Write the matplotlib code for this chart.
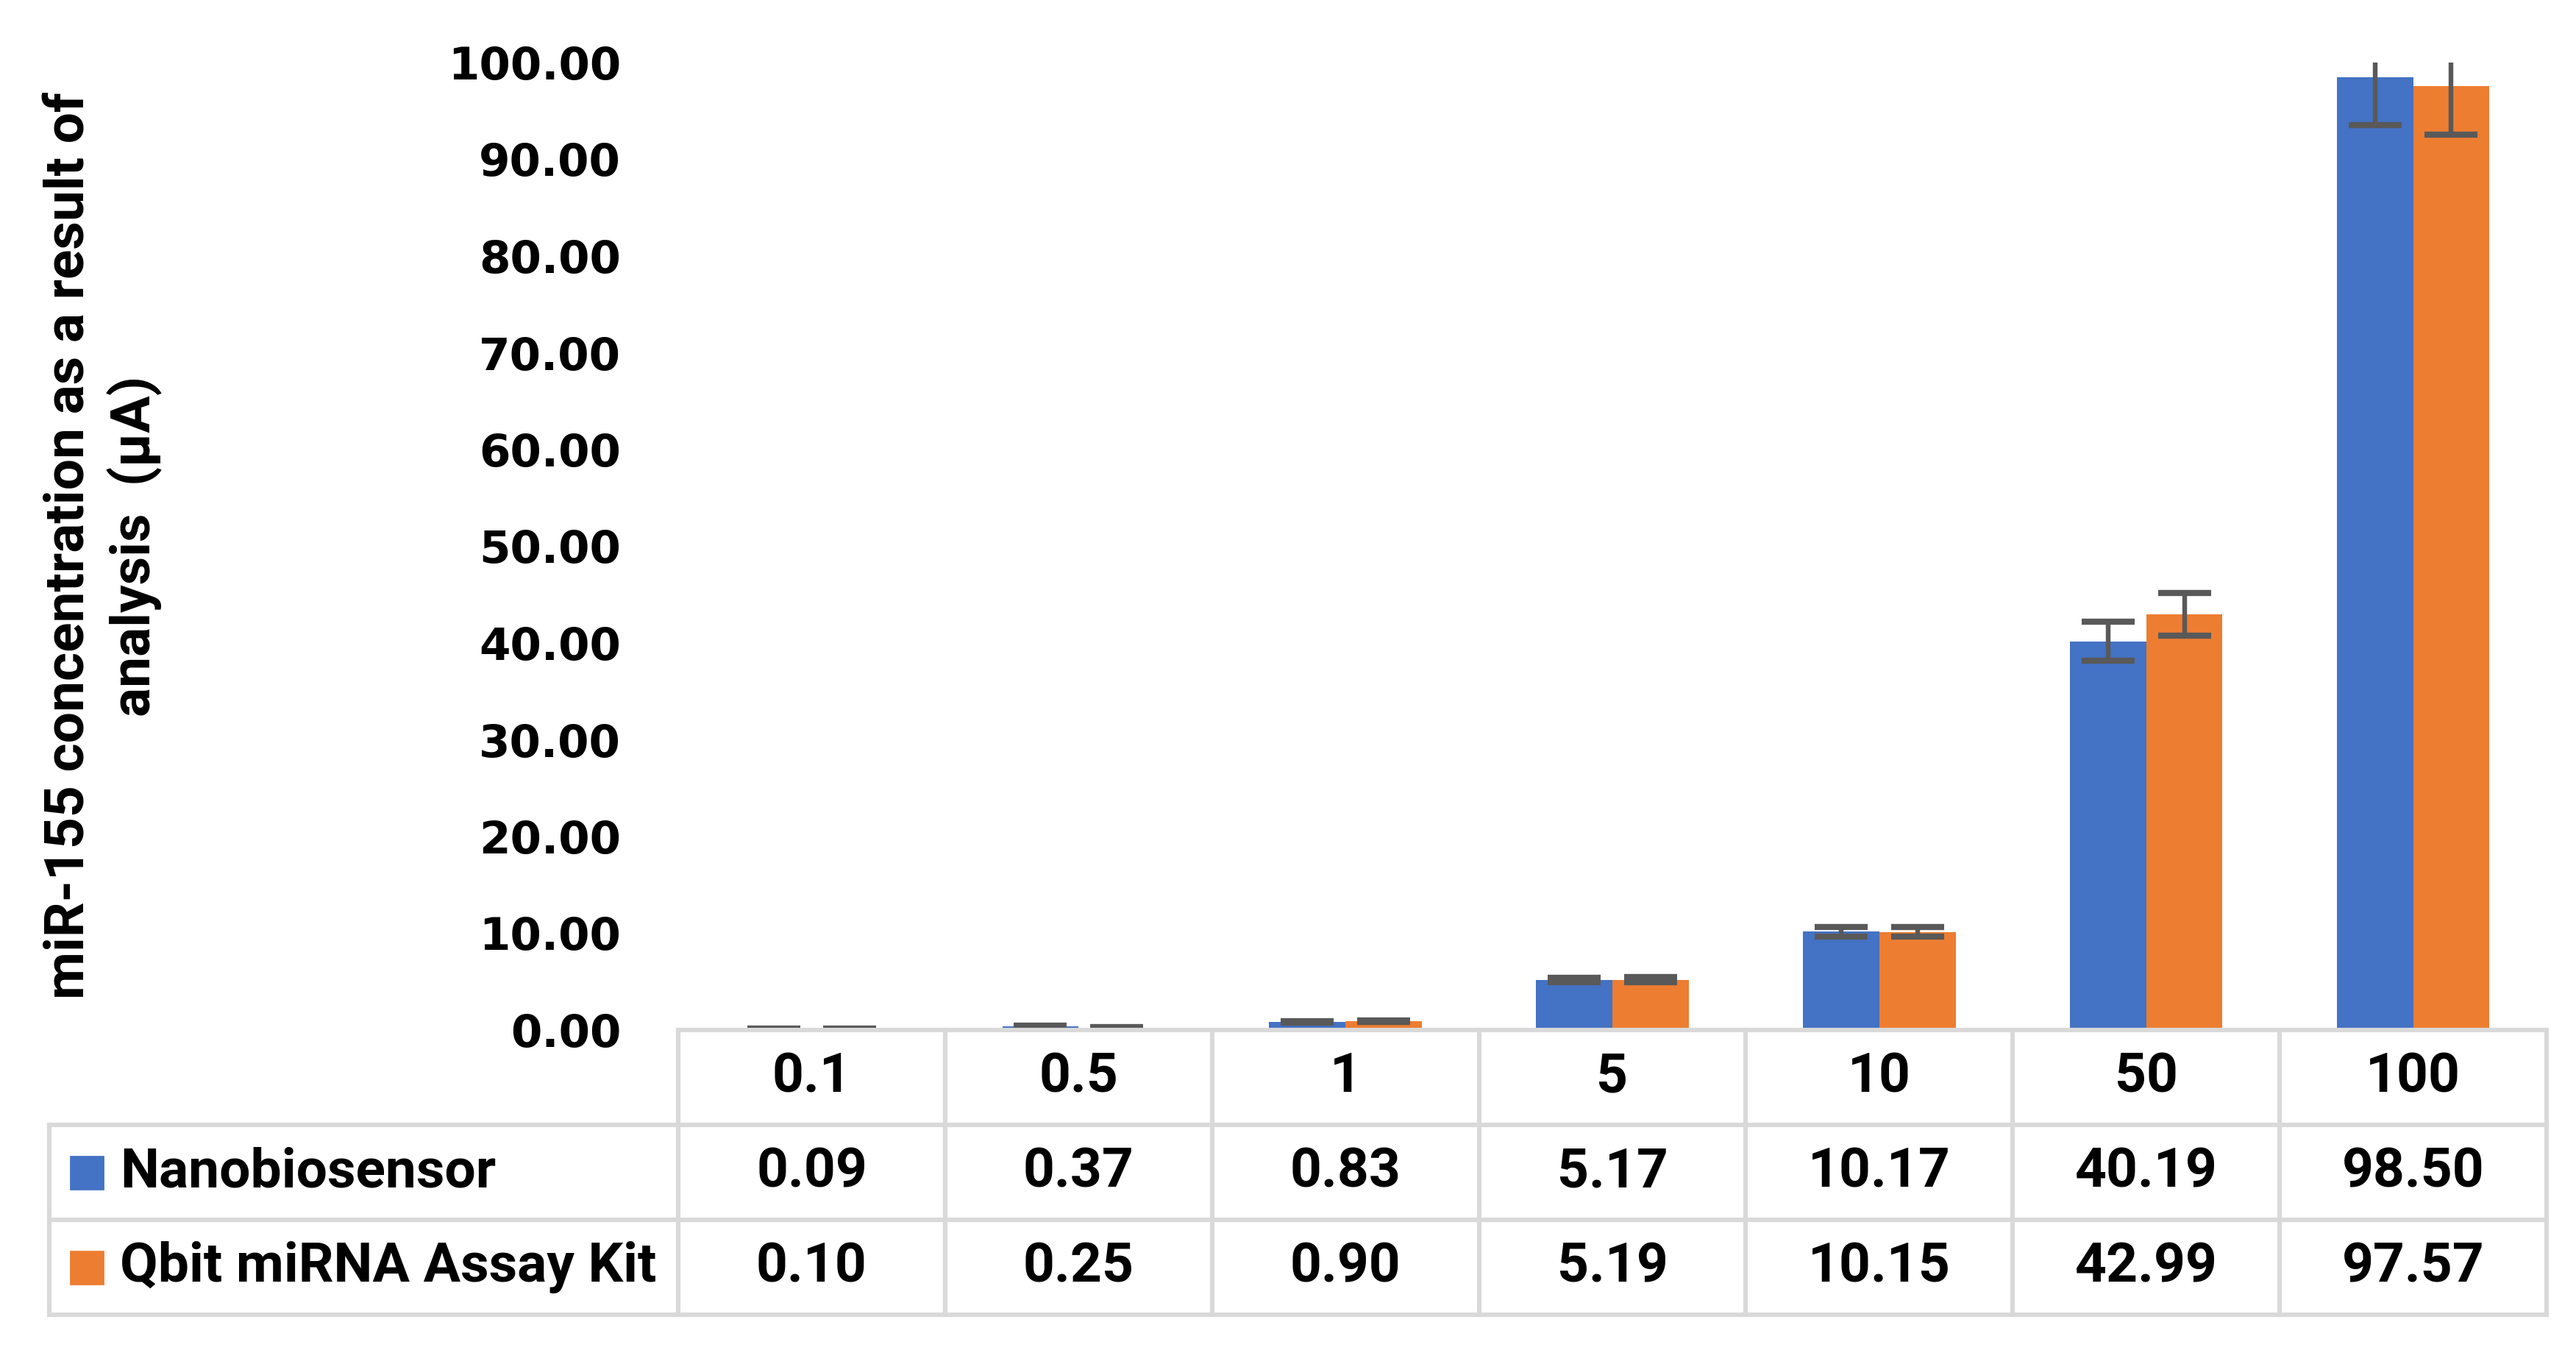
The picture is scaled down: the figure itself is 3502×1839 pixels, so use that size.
import numpy as np
import matplotlib.pyplot as plt

# data
concentrations = ['0.1', '0.5', '1', '5', '10', '50', '100']
nano = [0.09, 0.37, 0.83, 5.17, 10.17, 40.19, 98.50]
qbit = [0.10, 0.25, 0.90, 5.19, 10.15, 42.99, 97.57]
nano_err = [0.03, 0.12, 0.1, 0.25, 0.5, 2.0, 5.0]
qbit_err = [0.03, 0.08, 0.1, 0.25, 0.5, 2.2, 5.0]
series_names = ['Nanobiosensor', 'Qbit miRNA Assay Kit']
series_colors = ['#4472C4', '#ED7D31']
y_ticks = np.arange(0, 101, 10)

W, H = 3502, 1839
dpi = 200
fig = plt.figure(figsize=(W / dpi, H / dpi), dpi=dpi)

# plot area (pixel layout of the original)
px_left, px_right, px_top, px_zero = 922, 3462, 85, 1400
ax = fig.add_axes([px_left / W, (H - px_zero) / H,
                   (px_right - px_left) / W, (px_zero - px_top) / H])

x = np.arange(len(concentrations))
bw = 0.286
ax.bar(x - bw / 2, nano, bw, color=series_colors[0], zorder=2)
ax.bar(x + bw / 2, qbit, bw, color=series_colors[1], zorder=2)
ax.errorbar(x - bw / 2, nano, yerr=nano_err, fmt='none', ecolor='#595959',
            elinewidth=2.3, capsize=13, capthick=3, zorder=3)
ax.errorbar(x + bw / 2, qbit, yerr=qbit_err, fmt='none', ecolor='#595959',
            elinewidth=2.3, capsize=13, capthick=3, zorder=3)

ax.set_xlim(-0.5, len(concentrations) - 0.5)
ax.set_ylim(0, 100)
ax.set_yticks(y_ticks)
ax.set_yticklabels(['%.2f' % v for v in y_ticks], fontsize=22,
                   fontweight='bold', family='DejaVu Sans')
ax.tick_params(axis='y', length=0, pad=28)
ax.set_xticks([])
for s in ax.spines.values():
    s.set_visible(False)

# y label (two lines, rotated)
fig.text(140 / W, 1097 / H, 'miR-155 concentration as a result of\nanalysis  (µA)',
         rotation=90, ha='center', va='center', multialignment='center',
         fontsize=27, fontweight='bold', family='Roboto', linespacing=1.3)

# data table under the plot
unit = (px_right - px_left) / len(concentrations)
tbl_left, tbl_bottom = 67, 1787
x0 = -0.5 - (px_left - tbl_left) / unit
tax = fig.add_axes([tbl_left / W, (H - tbl_bottom) / H,
                    (px_right - tbl_left) / W, (tbl_bottom - px_zero) / H])
tax.set_xlim(x0, len(concentrations) - 0.5)
tax.set_ylim(3, 0)
tax.axis('off')

gcol = '#D9D9D9'
glw = 2.2
xr = len(concentrations) - 0.5
tax.plot([-0.5, xr], [0, 0], color=gcol, lw=glw, clip_on=False, solid_capstyle='projecting')
for yy in [1, 2, 3]:
    tax.plot([x0, xr], [yy, yy], color=gcol, lw=glw, clip_on=False, solid_capstyle='projecting')
for xx in np.arange(-0.5, len(concentrations)):
    tax.plot([xx, xx], [0, 3], color=gcol, lw=glw, clip_on=False, solid_capstyle='projecting')
tax.plot([x0, x0], [1, 3], color=gcol, lw=glw, clip_on=False, solid_capstyle='projecting')

tfont = dict(fontsize=27, fontweight='bold', family='Roboto', va='center')
for i, c in enumerate(concentrations):
    tax.text(i, 0.5, c, ha='center', **tfont)
for row, (name, vals, col) in enumerate(zip(series_names, [nano, qbit], series_colors)):
    yy = row + 1.5
    tax.plot([x0 + (118 - tbl_left) / unit], [yy], marker='s', markersize=16,
             color=col, clip_on=False, linestyle='none')
    tax.text(x0 + (163 - tbl_left) / unit, yy, name, ha='left', **tfont)
    for i, v in enumerate(vals):
        tax.text(i, yy, '%.2f' % v, ha='center', **tfont)

fig.savefig('out.png', dpi=dpi, facecolor='white')
